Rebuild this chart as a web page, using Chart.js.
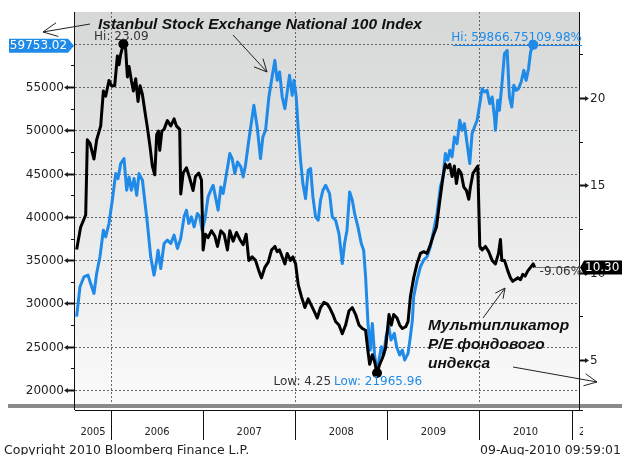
<!DOCTYPE html>
<html>
<head>
<meta charset="utf-8">
<script src="https://cdn.jsdelivr.net/npm/chart.js@4.4.0/dist/chart.umd.min.js"></script>
<style>
  html, body { margin: 0; padding: 0; background: #fff; }
  #wrap { width: 622px; height: 455px; }
</style>
</head>
<body>
<div id="wrap"><canvas id="chart" width="622" height="455"></canvas></div>
<script>
// P/E of the index (right axis), decimal years
var peYears = [2005.627, 2005.670, 2005.725, 2005.743, 2005.772, 2005.815, 2005.844, 2005.888, 2005.917, 2005.942,
  2005.978, 2006.004, 2006.040, 2006.069, 2006.087, 2006.105, 2006.134, 2006.159, 2006.178, 2006.196,
  2006.221, 2006.243, 2006.268, 2006.293, 2006.315, 2006.341, 2006.366, 2006.395, 2006.424, 2006.449,
  2006.475, 2006.496, 2006.515, 2006.529, 2006.552, 2006.576, 2006.612, 2006.649, 2006.685, 2006.710,
  2006.746, 2006.757, 2006.783, 2006.819, 2006.855, 2006.891, 2006.917, 2006.953, 2006.982, 2007.000,
  2007.025, 2007.054, 2007.091, 2007.127, 2007.156, 2007.192, 2007.228, 2007.264, 2007.290, 2007.326,
  2007.362, 2007.399, 2007.435, 2007.467, 2007.496, 2007.533, 2007.569, 2007.605, 2007.634, 2007.670,
  2007.707, 2007.743, 2007.779, 2007.804, 2007.830, 2007.859, 2007.888, 2007.913, 2007.949, 2007.975,
  2008.004, 2008.033, 2008.069, 2008.105, 2008.141, 2008.178, 2008.214, 2008.239, 2008.275, 2008.312,
  2008.348, 2008.373, 2008.409, 2008.438, 2008.475, 2008.511, 2008.547, 2008.583, 2008.620, 2008.656,
  2008.692, 2008.728, 2008.764, 2008.790, 2008.808, 2008.837, 2008.862, 2008.888, 2008.917, 2008.946,
  2008.982, 2009.018, 2009.043, 2009.069, 2009.105, 2009.134, 2009.163, 2009.199, 2009.225, 2009.250,
  2009.286, 2009.322, 2009.359, 2009.395, 2009.431, 2009.467, 2009.504, 2009.533, 2009.569, 2009.605,
  2009.630, 2009.656, 2009.678, 2009.703, 2009.728, 2009.750, 2009.775, 2009.801, 2009.830, 2009.859,
  2009.884, 2009.902, 2009.931, 2009.957, 2009.982, 2010.004, 2010.029, 2010.065, 2010.101, 2010.138,
  2010.174, 2010.207, 2010.228, 2010.243, 2010.272, 2010.308, 2010.337, 2010.362, 2010.388, 2010.417,
  2010.446, 2010.471, 2010.496, 2010.525, 2010.555, 2010.584, 2010.599];
var peValues = [11.33, 12.6, 13.3, 17.6, 17.4, 16.5, 17.6, 18.4, 20.4, 20.1,
  21.0, 20.7, 20.7, 22.4, 21.9, 22.5, 23.09, 22.8, 21.2, 21.8,
  21.0, 20.4, 21.1, 19.8, 20.7, 20.2, 19.3, 18.3, 17.2, 16.1,
  15.6, 17.9, 18.1, 17.0, 18.1, 18.2, 18.7, 18.4, 18.8, 18.4,
  18.2, 14.5, 15.7, 16.0, 15.4, 14.7, 15.5, 15.7, 15.3, 11.3,
  12.2, 12.0, 12.4, 12.1, 11.5, 12.4, 12.2, 11.3, 12.4, 11.8,
  12.3, 11.9, 11.6, 12.2, 10.7, 10.9, 10.7, 10.1, 9.7, 10.3,
  10.6, 11.3, 11.5, 11.2, 11.3, 10.9, 10.5, 11.1, 10.7, 10.9,
  10.5, 9.3, 8.6, 8.0, 8.5, 8.1, 7.7, 7.4, 8.0, 8.3,
  8.2, 8.0, 7.6, 7.2, 7.0, 6.5, 7.0, 7.8, 8.0, 7.6,
  7.0, 6.8, 6.7, 5.5, 4.75, 5.3, 4.9, 4.25, 4.75, 5.1,
  5.7, 7.6, 7.0, 7.6, 7.4, 7.0, 6.8, 6.9, 7.2, 8.6,
  9.7, 10.5, 11.1, 11.2, 11.1, 11.6, 12.2, 12.6, 14.1, 15.5,
  16.2, 16.0, 16.2, 15.5, 16.1, 15.1, 15.9, 15.7, 14.9, 14.7,
  14.2, 14.9, 15.7, 15.9, 16.1, 11.5, 11.3, 11.5, 11.2, 10.7,
  10.5, 11.1, 11.9, 10.7, 10.7, 10.1, 9.7, 9.5, 9.6, 9.7,
  9.6, 9.9, 9.8, 10.1, 10.3, 10.5, 10.30];

// Istanbul Stock Exchange National 100 Index (left axis)
var iseYears = [2005.627, 2005.663, 2005.707, 2005.750, 2005.779, 2005.815, 2005.844, 2005.880, 2005.917, 2005.942,
  2005.978, 2006.014, 2006.051, 2006.076, 2006.105, 2006.141, 2006.170, 2006.196, 2006.221, 2006.250,
  2006.279, 2006.304, 2006.341, 2006.366, 2006.395, 2006.431, 2006.467, 2006.496, 2006.511, 2006.540,
  2006.576, 2006.612, 2006.649, 2006.685, 2006.721, 2006.757, 2006.793, 2006.819, 2006.844, 2006.873,
  2006.902, 2006.938, 2006.964, 2006.989, 2007.018, 2007.054, 2007.083, 2007.109, 2007.134, 2007.163,
  2007.192, 2007.217, 2007.254, 2007.290, 2007.315, 2007.344, 2007.373, 2007.409, 2007.435, 2007.460,
  2007.496, 2007.551, 2007.587, 2007.623, 2007.649, 2007.678, 2007.714, 2007.743, 2007.779, 2007.804,
  2007.830, 2007.859, 2007.888, 2007.913, 2007.938, 2007.967, 2007.986, 2008.011, 2008.033, 2008.058,
  2008.083, 2008.112, 2008.141, 2008.167, 2008.192, 2008.221, 2008.250, 2008.275, 2008.301, 2008.330,
  2008.373, 2008.402, 2008.438, 2008.475, 2008.511, 2008.536, 2008.562, 2008.591, 2008.620, 2008.645,
  2008.681, 2008.717, 2008.743, 2008.764, 2008.790, 2008.815, 2008.837, 2008.862, 2008.888, 2008.909,
  2008.935, 2008.961, 2008.986, 2009.016, 2009.040, 2009.076, 2009.101, 2009.134, 2009.163, 2009.188,
  2009.225, 2009.250, 2009.272, 2009.286, 2009.322, 2009.359, 2009.395, 2009.431, 2009.467, 2009.504,
  2009.540, 2009.576, 2009.605, 2009.630, 2009.656, 2009.678, 2009.703, 2009.728, 2009.757, 2009.786,
  2009.812, 2009.837, 2009.866, 2009.895, 2009.920, 2009.946, 2009.975, 2010.004, 2010.029, 2010.054,
  2010.083, 2010.112, 2010.138, 2010.163, 2010.174, 2010.199, 2010.217, 2010.243, 2010.272, 2010.301,
  2010.326, 2010.351, 2010.373, 2010.399, 2010.424, 2010.453, 2010.482, 2010.507, 2010.533, 2010.555,
  2010.584, 2010.599];
var iseValues = [28480, 31923, 33077, 33269, 32308, 31154, 33462, 35385, 38462, 37692,
  39231, 41923, 45000, 44423, 46154, 46731, 43077, 44615, 43077, 44423,
  42500, 45000, 44231, 41923, 39231, 35385, 33269, 35000, 36154, 34038,
  36923, 37308, 36923, 37885, 36346, 37500, 40000, 40769, 39231, 40000,
  38846, 40385, 40000, 38462, 39615, 42308, 43077, 43654, 42308, 40769,
  43462, 42692, 45000, 47308, 46731, 45000, 46346, 45769, 44615, 45962,
  48846, 52885, 50385, 46731, 49231, 50000, 53846, 55769, 58077, 55769,
  56731, 53846, 52500, 54423, 56346, 54038, 55769, 53846, 50000, 46538,
  43846, 42115, 45385, 45577, 42308, 40000, 39615, 41923, 43077, 43654,
  42692, 40000, 39615, 38077, 34615, 36923, 38462, 42885, 41923, 40385,
  38846, 36923, 36154, 33077, 27692, 24615, 27692, 24038, 21965.96, 23462,
  25000, 24038, 26154, 27308, 25769, 26538, 25000, 24038, 24615, 23462,
  24231, 26154, 28077, 30769, 32692, 34231, 35000, 35385, 36538, 38462,
  40385, 43462, 44615, 47308, 46538, 47692, 46923, 49231, 48462, 51154,
  50000, 50769, 48462, 46154, 49615, 50385, 51154, 53077, 54808, 54423,
  54615, 53077, 53846, 51538, 50000, 53462, 52308, 55192, 58846, 59231,
  53846, 52692, 55192, 54615, 54808, 55577, 56923, 55769, 57115, 59038,
  59866.75, 59753.02];

// axis ticks and labels
var leftTicks = [20000, 25000, 30000, 35000, 40000, 45000, 50000, 55000];
var leftGridValues = [20000, 25000, 30000, 35000, 40000, 45000, 50000, 55000, 60000];
var rightTicks = [5, 10, 15, 20];
var yearStarts = [2006, 2007, 2008, 2009, 2010, 2011];
var yearLabels = ['2005', '2006', '2007', '2008', '2009', '2010', '2011'];
var gridYears = [2006, 2008, 2010];

var BLUE = '#1f8ae8';
var LABEL_FONT = '12px "DejaVu Sans", Verdana, sans-serif';

function seg(ctx, x1, y1, x2, y2) {
  ctx.beginPath();
  ctx.moveTo(x1, y1);
  ctx.lineTo(x2, y2);
  ctx.stroke();
}

function arrow(ctx, x1, y1, x2, y2, len) {
  seg(ctx, x1, y1, x2, y2);
  var ang = Math.atan2(y1 - y2, x1 - x2);
  [-0.45, 0.45].forEach(function (d) {
    seg(ctx, x2, y2, x2 + len * Math.cos(ang + d), y2 + len * Math.sin(ang + d));
  });
}

function dot(ctx, x, y, r, color) {
  ctx.fillStyle = color;
  ctx.beginPath();
  ctx.arc(x, y, r, 0, Math.PI * 2);
  ctx.fill();
}

var bloombergLook = {
  id: 'bloombergLook',
  beforeDraw: function (chart) {
    var ctx = chart.ctx, a = chart.chartArea;
    var xs = chart.scales.x, yl = chart.scales.y;
    ctx.save();
    ctx.fillStyle = '#fff';
    ctx.fillRect(0, 0, chart.width, chart.height);
    var g = ctx.createLinearGradient(0, a.top, 0, a.bottom);
    g.addColorStop(0, '#d6d7d7');
    g.addColorStop(1, '#fafafa');
    ctx.fillStyle = g;
    ctx.fillRect(a.left, a.top, a.right - a.left, a.bottom - a.top);

    ctx.strokeStyle = '#666';
    ctx.lineWidth = 1;
    ctx.setLineDash([2, 2]);
    leftGridValues.forEach(function (v) {
      var py = Math.round(yl.getPixelForValue(v)) + 0.5;
      seg(ctx, a.left, py, a.right, py);
    });
    gridYears.forEach(function (t) {
      var px = Math.round(xs.getPixelForValue(t)) + 0.5;
      seg(ctx, px, a.top, px, a.bottom);
    });
    ctx.restore();
  },
  afterDatasetsDraw: function (chart) {
    var ctx = chart.ctx, a = chart.chartArea;
    var xs = chart.scales.x, yl = chart.scales.y, yr = chart.scales.y1;
    ctx.save();

    // thick grey rule under the plot
    ctx.fillStyle = '#8a8a8a';
    ctx.fillRect(8, a.bottom, chart.width - 8, 4);

    // axis frame
    ctx.strokeStyle = '#111';
    ctx.lineWidth = 1;
    seg(ctx, a.left - 0.5, a.top, a.left - 0.5, a.bottom + 6);
    seg(ctx, a.right + 0.5, a.top, a.right + 0.5, a.bottom + 6);
    seg(ctx, a.left, a.bottom + 6.5, a.right + 4, a.bottom + 6.5);

    // left axis ticks
    ctx.font = LABEL_FONT;
    ctx.fillStyle = '#222';
    ctx.textAlign = 'right';
    ctx.textBaseline = 'middle';
    leftTicks.forEach(function (v) {
      var py = Math.round(yl.getPixelForValue(v)) + 0.5;
      ctx.lineWidth = 2;
      seg(ctx, a.left - 9, py, a.left, py);
      ctx.beginPath();
      ctx.moveTo(a.left - 11, py);
      ctx.lineTo(a.left - 7, py - 2.5);
      ctx.lineTo(a.left - 7, py + 2.5);
      ctx.closePath();
      ctx.fill();
      ctx.fillText(String(v), a.left - 11, py);
      ctx.lineWidth = 1;
      var pm = Math.round(yl.getPixelForValue(v + 2500)) + 0.5;
      seg(ctx, a.left - 4, pm, a.left, pm);
    });

    // right axis ticks
    ctx.textAlign = 'left';
    rightTicks.forEach(function (v) {
      var py = Math.round(yr.getPixelForValue(v)) + 0.5;
      ctx.lineWidth = 2;
      seg(ctx, a.right, py, a.right + 8, py);
      ctx.beginPath();
      ctx.moveTo(a.right + 10, py);
      ctx.lineTo(a.right + 6, py - 2.5);
      ctx.lineTo(a.right + 6, py + 2.5);
      ctx.closePath();
      ctx.fill();
      ctx.fillText(String(v), a.right + 11, py);
      ctx.lineWidth = 1;
      var pm = Math.round(yr.getPixelForValue(v + 2.5)) + 0.5;
      seg(ctx, a.right, pm, a.right + 4, pm);
    });

    // time axis: year separators and centred labels
    var edges = [xs.min].concat(yearStarts).concat([xs.max + 1]);
    ctx.lineWidth = 1;
    yearStarts.forEach(function (t) {
      var px = Math.round(xs.getPixelForValue(t)) + 0.5;
      seg(ctx, px, a.bottom + 6, px, a.bottom + 36);
    });
    ctx.save();
    ctx.beginPath();
    ctx.rect(a.left, a.bottom + 8, a.right + 4 - a.left, 40);
    ctx.clip();
    ctx.font = '11px "DejaVu Sans Condensed", "DejaVu Sans", sans-serif';
    ctx.textAlign = 'center';
    yearLabels.forEach(function (lab, i) {
      var cx = (xs.getPixelForValue(edges[i]) + xs.getPixelForValue(edges[i + 1])) / 2;
      if (i === yearLabels.length - 1) cx = xs.getPixelForValue(edges[i]) + 20;
      ctx.fillText(lab, cx, a.bottom + 28);
    });
    ctx.restore();

    // last value lines and tags
    var n1 = peYears.length - 1, n2 = iseYears.length - 1;
    var peLastX = xs.getPixelForValue(peYears[n1]), peLastY = yr.getPixelForValue(peValues[n1]);
    ctx.strokeStyle = '#777';
    seg(ctx, peLastX, Math.round(peLastY) + 0.5, a.right + 4, Math.round(peLastY) + 0.5);

    var iseHiX = xs.getPixelForValue(iseYears[n2 - 1]), iseHiY = yl.getPixelForValue(iseValues[n2 - 1]);
    ctx.strokeStyle = BLUE;
    seg(ctx, 453, Math.round(iseHiY) + 0.5, a.right + 3, Math.round(iseHiY) + 0.5);

    ctx.font = LABEL_FONT;
    ctx.textBaseline = 'middle';
    ctx.fillStyle = '#333';
    ctx.textAlign = 'left';
    ctx.fillText('-9.06%', peLastX + 5, peLastY + 4);

    // black tag on the right axis
    ctx.fillStyle = '#000';
    ctx.beginPath();
    ctx.moveTo(a.right + 1, peLastY);
    ctx.lineTo(a.right + 5, peLastY - 7);
    ctx.lineTo(chart.width, peLastY - 7);
    ctx.lineTo(chart.width, peLastY + 7);
    ctx.lineTo(a.right + 5, peLastY + 7);
    ctx.closePath();
    ctx.fill();
    ctx.fillStyle = '#fff';
    ctx.fillText('10.30', a.right + 6, peLastY + 0.5);

    // blue tag on the left axis
    var iseLastY = yl.getPixelForValue(iseValues[n2]);
    ctx.fillStyle = BLUE;
    ctx.beginPath();
    ctx.moveTo(a.left - 1, iseLastY);
    ctx.lineTo(a.left - 7, iseLastY - 7);
    ctx.lineTo(9, iseLastY - 7);
    ctx.lineTo(9, iseLastY + 7);
    ctx.lineTo(a.left - 7, iseLastY + 7);
    ctx.closePath();
    ctx.fill();
    ctx.fillStyle = '#fff';
    ctx.textAlign = 'center';
    ctx.fillText('59753.02', 38.5, iseLastY + 0.5);

    // high / low markers
    var peHi = peValues.indexOf(Math.max.apply(null, peValues));
    var peLo = peValues.indexOf(Math.min.apply(null, peValues));
    var hx = xs.getPixelForValue(peYears[peHi]), hy = yr.getPixelForValue(peValues[peHi]);
    var lx = xs.getPixelForValue(peYears[peLo]), ly = yr.getPixelForValue(peValues[peLo]);
    dot(ctx, hx, hy, 5, '#000');
    dot(ctx, lx, ly, 5, '#000');
    dot(ctx, iseHiX, iseHiY, 5, BLUE);

    ctx.fillStyle = '#333';
    ctx.textAlign = 'center';
    ctx.fillText('Hi: 23.09', hx - 2, hy - 7);
    ctx.textAlign = 'right';
    ctx.fillText('Low: 4.25', lx - 46, ly + 9);
    ctx.fillStyle = BLUE;
    ctx.textAlign = 'center';
    ctx.fillText('Low: 21965.96', lx + 1, ly + 9);
    ctx.textAlign = 'right';
    ctx.fillText('Hi: 59866.75109.98%', a.right + 3, iseHiY - 7);

    // annotations
    ctx.fillStyle = '#111';
    ctx.textAlign = 'left';
    ctx.textBaseline = 'alphabetic';
    ctx.font = 'italic bold 15.5px "Liberation Sans", Arial, sans-serif';
    ctx.fillText('Istanbul Stock Exchange National 100 Index', 98, 29);
    ctx.fillText('Мультипликатор', 428, 330);
    ctx.fillText('P/E фондового', 428, 349);
    ctx.fillText('индекса', 428, 368);

    ctx.strokeStyle = '#222';
    ctx.lineWidth = 1;
    arrow(ctx, 90, 24, 43, 32, 16);
    arrow(ctx, 233, 35, 267, 72, 14);
    arrow(ctx, 483, 318, 505, 288, 11);
    arrow(ctx, 513, 367, 597, 382, 14);

    // footer
    ctx.fillStyle = '#222';
    ctx.font = '12.5px "DejaVu Sans", Verdana, sans-serif';
    ctx.textAlign = 'left';
    ctx.fillText('Copyright 2010 Bloomberg Finance L.P.', 4, 454);
    ctx.textAlign = 'right';
    ctx.fillText('09-Aug-2010 09:59:01', 621, 454);
    ctx.restore();
  }
};

function points(xsArr, ysArr) {
  return xsArr.map(function (t, i) { return { x: t, y: ysArr[i] }; });
}

var ctx = document.getElementById('chart').getContext('2d');
var chart = new Chart(ctx, {
  type: 'line',
  data: {
    datasets: [{
      label: 'P/E',
      data: points(peYears, peValues),
      yAxisID: 'y1',
      borderColor: '#000',
      borderWidth: 3,
      pointRadius: 0,
      tension: 0,
      borderJoinStyle: 'round'
    }, {
      label: 'ISE National 100',
      data: points(iseYears, iseValues),
      yAxisID: 'y',
      borderColor: BLUE,
      borderWidth: 3,
      pointRadius: 0,
      tension: 0,
      borderJoinStyle: 'round'
    }]
  },
  options: {
    responsive: false,
    animation: false,
    devicePixelRatio: 1,
    layout: { padding: { left: 75, right: 43, top: 12, bottom: 51 } },
    plugins: { legend: { display: false }, tooltip: { enabled: false } },
    scales: {
      x: { type: 'linear', display: false, min: 2005.609, max: 2011.081 },
      y: { display: false, min: 18383, max: 63664 },
      y1: { display: false, position: 'right', min: 2.48, max: 24.92 }
    }
  },
  plugins: [bloombergLook]
});
</script>
</body>
</html>
